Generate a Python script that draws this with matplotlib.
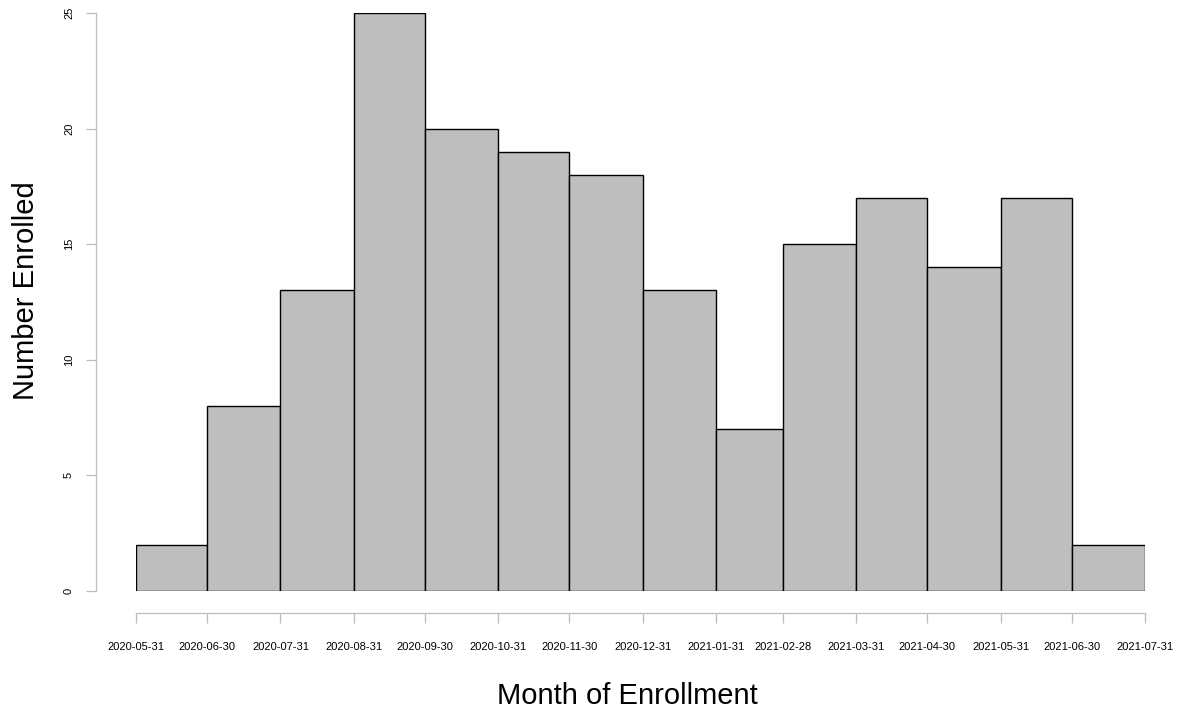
import matplotlib
matplotlib.use("Agg")
import matplotlib.pyplot as plt
import matplotlib.dates as mdates
import datetime as dt

# bin edges (month ends) and enrollment counts per bin
edges = ["2020-05-31", "2020-06-30", "2020-07-31", "2020-08-31", "2020-09-30",
         "2020-10-31", "2020-11-30", "2020-12-31", "2021-01-31", "2021-02-28",
         "2021-03-31", "2021-04-30", "2021-05-31", "2021-06-30", "2021-07-31"]
counts = [2, 8, 13, 25, 20, 19, 18, 13, 7, 15, 17, 14, 17, 2]
yticks = [0, 5, 10, 15, 20, 25]

plt.rcParams['font.family'] = ['Liberation Sans', 'DejaVu Sans']

W, H = 1178, 715
fig = plt.figure(figsize=(W / 100, H / 100), dpi=100)

# place plotting region in pixel coords (x0, x1, ybottom, ytop)
x0, x1, yb, yt = 136, 1145, 591, 13
ax = fig.add_axes([x0 / W, 1 - yb / H, (x1 - x0) / W, (yb - yt) / H])

edge_dates = [dt.datetime.strptime(e, "%Y-%m-%d") for e in edges]
edge_nums = mdates.date2num(edge_dates)
lefts = edge_nums[:-1]
widths = edge_nums[1:] - edge_nums[:-1]

ax.bar(lefts, counts, width=widths, align='edge', color='#bebebe',
       edgecolor='black', linewidth=1.0)

ax.set_xlim(edge_nums[0], edge_nums[-1])
ax.set_ylim(0, 25)

for s in ['top', 'right']:
    ax.spines[s].set_visible(False)
ax.spines['left'].set_position(('outward', 40 * 0.72))
ax.spines['bottom'].set_position(('outward', 22 * 0.72))
ax.spines['left'].set_bounds(0, 25)
ax.spines['bottom'].set_bounds(edge_nums[0], edge_nums[-1])
for s in ['left', 'bottom']:
    ax.spines[s].set_color('#bdbdbd')
    ax.spines[s].set_linewidth(0.9)

ax.set_xticks(edge_nums)
ax.set_xticklabels(edges, fontsize=8)
ax.set_yticks(yticks)
ax.set_yticklabels([str(v) for v in yticks], fontsize=8, rotation=90,
                   va='center')
ax.tick_params(axis='both', color='#bdbdbd', length=10 * 0.72, width=0.9)
ax.tick_params(axis='x', pad=19 * 0.72)
ax.tick_params(axis='y', pad=12 * 0.72)

fig.text(627 / W, 1 - 696 / H, "Month of Enrollment", fontsize=21,
         ha='center', va='center')
fig.text(26 / W, 1 - 291 / H, "Number Enrolled", fontsize=21,
         ha='center', va='center', rotation=90)

fig.savefig("out.png", dpi=100)
